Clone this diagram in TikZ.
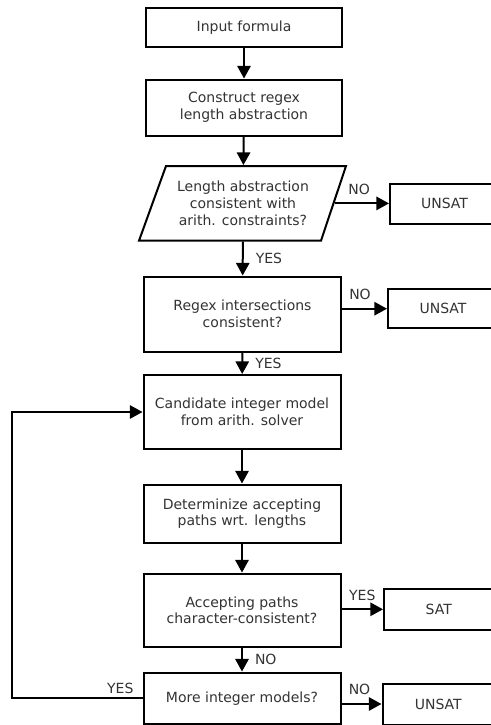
\documentclass[tikz,border=0pt]{standalone}
\usepackage{fontspec}
\setmainfont{DejaVu Sans}
\usetikzlibrary{arrows.meta}
\begin{document}
\begin{tikzpicture}[x=0.75pt,y=-0.75pt, line width=1.5pt,
  txt/.style={text=black!80, font=\fontsize{10.5}{12.5}\selectfont},
  box/.style={txt, draw=black, fill=white, align=center, inner sep=0pt},
  lbl/.style={txt, inner sep=0pt},
  arr/.style={-{Triangle[length=9.5pt,width=10pt]}}]
\fill[white] (0,0) rectangle (491,725);
\useasboundingbox (0,0) rectangle (491,725);
\clip (0,0) rectangle (491,725);
% main column
\node[box, minimum width=147pt, minimum height=29.25pt] (in) at (244,27.5) {Input formula};
\node[box, minimum width=147pt, minimum height=42pt] (cons) at (244,107.5) {Construct regex\\length abstraction};
\draw[fill=white] (166,166) -- (346,166) -- (321,240.7) -- (139,240.7) -- cycle;
\node[txt, align=center, inner sep=0pt, minimum width=135.75pt, minimum height=56pt] (para) at (243,203.4) {Length abstraction\\consistent with\\arith. constraints?};
\node[box, minimum width=147.75pt, minimum height=56.25pt] (regex) at (242.5,314) {Regex intersections\\consistent?};
\node[box, minimum width=147.75pt, minimum height=55.5pt] (cand) at (242,412) {Candidate integer model\\from arith. solver};
\node[box, minimum width=147.75pt, minimum height=43.5pt] (det) at (242,513.5) {Determinize accepting\\paths wrt. lengths};
\node[box, minimum width=147.75pt, minimum height=55.1pt] (acc) at (242,610.3) {Accepting paths\\character-consistent?};
\node[box, minimum width=147.75pt, minimum height=38.6pt] (more) at (242,698.3) {More integer models?};
% right column
\node[box, minimum width=81.75pt, minimum height=30pt] (u1) at (444.5,203.5) {UNSAT};
\node[box, minimum width=82.5pt, minimum height=29.6pt] (u2) at (443,308.7) {UNSAT};
\node[box, minimum width=82.2pt, minimum height=30.4pt] (sat) at (438.8,609.3) {SAT};
\node[box, minimum width=83.7pt, minimum height=30.75pt] (u3) at (438.3,704) {UNSAT};
% connectors
\draw[arr] (in) -- (cons);
\draw[arr] (cons) -- (para);
\draw[arr] (para) -- node[lbl, right=9pt] {YES} (regex);
\draw[arr] (regex) -- node[lbl, right=9pt] {YES} (cand);
\draw[arr] (cand) -- (det);
\draw[arr] (det) -- (acc);
\draw[arr] (acc) -- node[lbl, right=9pt] {NO} (more);
\draw[arr] (para.east) -- node[lbl, above=6pt, pos=0.45] {NO} (para.east -| u1.west);
\draw[arr] (regex.east |- u2.west) -- node[lbl, above=6pt, pos=0.4] {NO} (u2.west);
\draw[arr] (acc.east |- sat.west) -- node[lbl, above=6pt] {YES} (sat.west);
\draw[arr] (more.east |- u3.west) -- node[lbl, above=6pt, pos=0.45] {NO} (u3.west);
\coordinate (lp) at (12,698.3);
\draw[arr] (more.west) -- node[lbl, above=3pt, pos=0.17] {YES} (lp) |- (cand.west);
\end{tikzpicture}
\end{document}
